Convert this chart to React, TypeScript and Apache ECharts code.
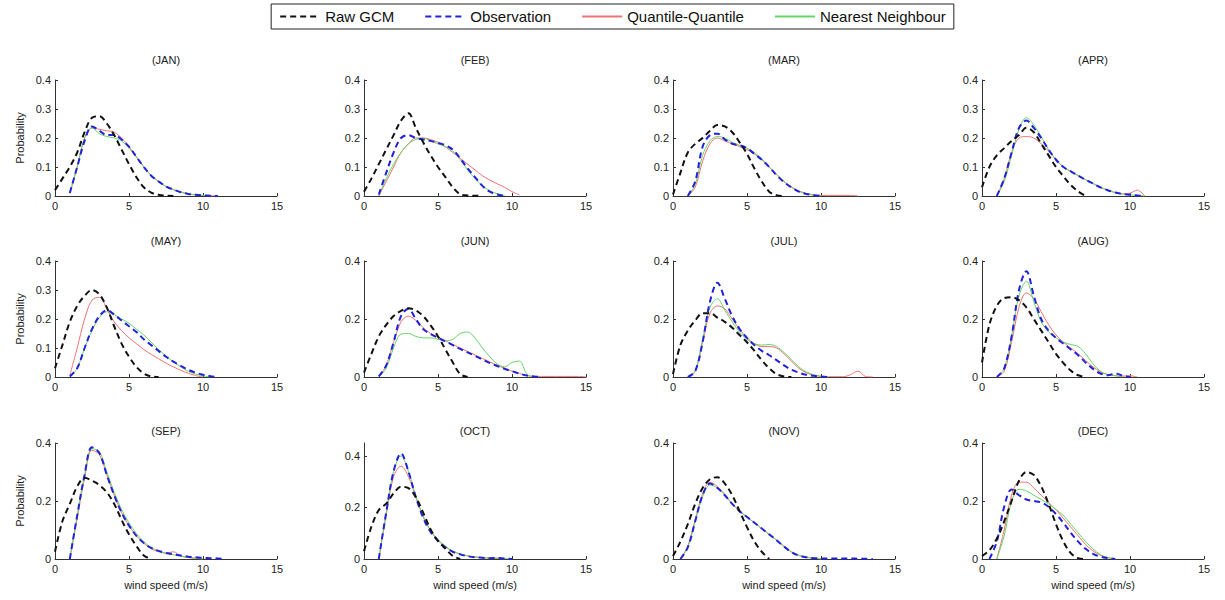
import React, { useEffect, useRef } from "react";
import * as echarts from "echarts";

const SPEED = [0, 0.5, 1, 1.5, 2, 2.5, 3, 3.5, 4, 4.5, 5, 5.5, 6, 6.5, 7, 7.5, 8, 8.5, 9, 9.5, 10, 10.5, 11, 11.5, 12, 12.5, 13, 13.5, 14, 14.5, 15];
const MONTHS = ["(JAN)", "(FEB)", "(MAR)", "(APR)", "(MAY)", "(JUN)", "(JUL)", "(AUG)", "(SEP)", "(OCT)", "(NOV)", "(DEC)"];
const SERIES_NAMES = ["Raw GCM", "Observation", "Quantile-Quantile", "Nearest Neighbour"];
const X_MAX = 15;
const X_STEP = 5;
const Y_MAX = [0.4, 0.4, 0.4, 0.4, 0.4, 0.4, 0.4, 0.4, 0.4, 0.45, 0.4, 0.4];
const Y_STEP = [0.1, 0.1, 0.1, 0.1, 0.1, 0.2, 0.2, 0.2, 0.2, 0.2, 0.2, 0.2];

const JAN_GCM = [0.02, 0.06, 0.1, 0.15, 0.22, 0.27, 0.275, 0.25, 0.21, 0.16, 0.11, 0.065, 0.03, 0.012, 0.004, 0.001, 0];
const JAN_OBS = [null, null, 0.01, 0.1, 0.19, 0.24, 0.225, 0.21, 0.21, 0.195, 0.17, 0.135, 0.1, 0.07, 0.05, 0.033, 0.022, 0.013, 0.007, 0.004, 0.002, 0.001, 0];
const JAN_QQ = [null, null, 0.01, 0.1, 0.2, 0.235, 0.23, 0.225, 0.22, 0.2, 0.17, 0.135, 0.1, 0.07, 0.05, 0.033, 0.022, 0.014, 0.008, 0.004, 0.002, 0.001, 0];
const JAN_NN = [null, null, 0.01, 0.1, 0.2, 0.235, 0.215, 0.205, 0.2, 0.19, 0.165, 0.135, 0.1, 0.072, 0.05, 0.033, 0.022, 0.013, 0.007, 0.004, 0.002, 0];

const FEB_GCM = [0.015, 0.06, 0.11, 0.16, 0.21, 0.26, 0.285, 0.235, 0.185, 0.14, 0.1, 0.065, 0.03, 0.006, 0.002, 0.001, 0];
const FEB_OBS = [null, null, 0.005, 0.08, 0.15, 0.2, 0.21, 0.2, 0.195, 0.19, 0.183, 0.175, 0.16, 0.13, 0.095, 0.065, 0.035, 0.015, 0.005, 0];
const FEB_QQ = [null, null, 0, 0.05, 0.1, 0.15, 0.18, 0.2, 0.2, 0.195, 0.185, 0.17, 0.15, 0.13, 0.11, 0.09, 0.07, 0.055, 0.042, 0.03, 0.015, 0.004];
const FEB_NN = [null, null, 0, 0.06, 0.11, 0.15, 0.18, 0.195, 0.2, 0.19, 0.18, 0.17, 0.155, 0.125, 0.09, 0.06, 0.035, 0.018, 0.008, 0.002];

const MAR_GCM = [0.005, 0.08, 0.15, 0.18, 0.2, 0.225, 0.245, 0.24, 0.22, 0.185, 0.145, 0.095, 0.05, 0.015, 0.003, 0];
const MAR_OBS = [null, null, 0, 0.05, 0.17, 0.21, 0.215, 0.195, 0.18, 0.175, 0.165, 0.145, 0.125, 0.1, 0.072, 0.048, 0.03, 0.015, 0.007, 0.003, 0];
const MAR_QQ = [null, null, 0, 0.03, 0.12, 0.18, 0.2, 0.19, 0.18, 0.17, 0.16, 0.145, 0.125, 0.1, 0.075, 0.05, 0.032, 0.018, 0.009, 0.004, 0.002, 0.002, 0.002, 0.002, 0.002, 0];
const MAR_NN = [null, null, 0, 0.04, 0.14, 0.19, 0.205, 0.2, 0.185, 0.175, 0.165, 0.15, 0.128, 0.1, 0.073, 0.05, 0.03, 0.016, 0.008, 0.003, 0];

const APR_GCM = [0.03, 0.1, 0.14, 0.165, 0.19, 0.21, 0.235, 0.22, 0.18, 0.14, 0.1, 0.068, 0.038, 0.016, 0];
const APR_OBS = [null, null, 0, 0.06, 0.15, 0.235, 0.26, 0.235, 0.2, 0.16, 0.125, 0.1, 0.085, 0.07, 0.056, 0.043, 0.03, 0.02, 0.012, 0.007, 0.004, 0.002, 0];
const APR_QQ = [null, null, 0, 0.06, 0.15, 0.2, 0.205, 0.2, 0.18, 0.155, 0.125, 0.1, 0.085, 0.07, 0.056, 0.043, 0.03, 0.02, 0.012, 0.007, 0.01, 0.02, 0];
const APR_NN = [null, null, 0, 0.05, 0.14, 0.23, 0.27, 0.245, 0.205, 0.16, 0.125, 0.1, 0.085, 0.07, 0.056, 0.043, 0.03, 0.02, 0.012, 0.007, 0.004, 0.002, 0];

const MAY_GCM = [0.03, 0.11, 0.19, 0.245, 0.28, 0.3, 0.285, 0.24, 0.175, 0.115, 0.07, 0.035, 0.012, 0.002, 0];
const MAY_OBS = [null, null, 0.002, 0.03, 0.1, 0.165, 0.21, 0.23, 0.215, 0.195, 0.175, 0.155, 0.13, 0.11, 0.09, 0.07, 0.053, 0.038, 0.025, 0.015, 0.008, 0.003, 0];
const MAY_QQ = [null, null, 0.005, 0.1, 0.2, 0.265, 0.275, 0.235, 0.19, 0.16, 0.135, 0.115, 0.095, 0.078, 0.063, 0.048, 0.035, 0.023, 0.013, 0.005, 0];
const MAY_NN = [null, null, 0, 0.03, 0.1, 0.16, 0.205, 0.225, 0.215, 0.2, 0.185, 0.165, 0.145, 0.12, 0.095, 0.072, 0.052, 0.035, 0.02, 0.01, 0.004, 0];

const JUN_GCM = [0.015, 0.08, 0.14, 0.18, 0.21, 0.228, 0.237, 0.23, 0.21, 0.178, 0.14, 0.095, 0.05, 0.01, 0];
const JUN_OBS = [null, null, 0.002, 0.04, 0.12, 0.21, 0.235, 0.2, 0.165, 0.148, 0.135, 0.123, 0.11, 0.097, 0.085, 0.073, 0.06, 0.048, 0.038, 0.028, 0.02, 0.012, 0.005, 0.002, 0];
const JUN_QQ = [null, null, 0, 0.04, 0.12, 0.19, 0.21, 0.195, 0.17, 0.15, 0.138, 0.125, 0.112, 0.1, 0.088, 0.076, 0.064, 0.052, 0.04, 0.03, 0.02, 0.012, 0.005, 0.002, 0.002, 0.002, 0.002, 0.002, 0.002, 0.002, 0];
const JUN_NN = [null, null, 0, 0.03, 0.1, 0.148, 0.15, 0.14, 0.135, 0.135, 0.13, 0.125, 0.13, 0.15, 0.155, 0.135, 0.1, 0.07, 0.045, 0.035, 0.05, 0.055, 0.01, 0];

const JUL_GCM = [0.01, 0.11, 0.16, 0.195, 0.22, 0.22, 0.205, 0.19, 0.17, 0.145, 0.12, 0.09, 0.058, 0.03, 0.01, 0.002, 0];
const JUL_OBS = [null, null, 0, 0.02, 0.12, 0.26, 0.325, 0.27, 0.21, 0.165, 0.135, 0.11, 0.09, 0.075, 0.058, 0.04, 0.025, 0.015, 0.008, 0.004, 0.002, 0];
const JUL_QQ = [null, null, 0, 0.02, 0.12, 0.22, 0.245, 0.235, 0.2, 0.165, 0.135, 0.115, 0.105, 0.105, 0.1, 0.08, 0.055, 0.03, 0.015, 0.006, 0.002, 0.001, 0.001, 0.001, 0.008, 0.02, 0.002, 0];
const JUL_NN = [null, null, 0, 0.02, 0.13, 0.24, 0.27, 0.23, 0.19, 0.155, 0.13, 0.115, 0.11, 0.112, 0.105, 0.085, 0.06, 0.035, 0.018, 0.008, 0.003, 0];

const AUG_GCM = [0.05, 0.18, 0.245, 0.272, 0.275, 0.265, 0.24, 0.2, 0.16, 0.12, 0.08, 0.048, 0.022, 0.006, 0];
const AUG_OBS = [null, null, 0, 0.03, 0.14, 0.3, 0.365, 0.28, 0.2, 0.16, 0.135, 0.115, 0.095, 0.075, 0.05, 0.028, 0.012, 0.006, 0.012, 0.005, 0];
const AUG_QQ = [null, null, 0, 0.02, 0.12, 0.24, 0.29, 0.27, 0.225, 0.18, 0.145, 0.12, 0.1, 0.08, 0.057, 0.035, 0.018, 0.008, 0.005, 0.003, 0.004, 0];
const AUG_NN = [null, null, 0, 0.03, 0.14, 0.28, 0.33, 0.26, 0.19, 0.155, 0.135, 0.12, 0.112, 0.105, 0.08, 0.045, 0.02, 0.008, 0.004, 0];

const SEP_GCM = [0.025, 0.13, 0.19, 0.25, 0.28, 0.27, 0.255, 0.23, 0.19, 0.135, 0.085, 0.045, 0.012, 0];
const SEP_OBS = [null, null, 0, 0.15, 0.29, 0.385, 0.365, 0.29, 0.22, 0.16, 0.115, 0.08, 0.055, 0.038, 0.028, 0.021, 0.016, 0.012, 0.008, 0.006, 0.004, 0.003, 0.002, 0];
const SEP_QQ = [null, null, 0, 0.14, 0.28, 0.375, 0.36, 0.29, 0.22, 0.16, 0.115, 0.08, 0.055, 0.035, 0.025, 0.02, 0.025, 0.01, 0.005, 0.002, 0];
const SEP_NN = [null, null, 0, 0.15, 0.29, 0.38, 0.37, 0.3, 0.23, 0.17, 0.125, 0.088, 0.06, 0.04, 0.028, 0.02, 0.015, 0.01, 0.006, 0.003, 0];

const OCT_GCM = [0.03, 0.125, 0.19, 0.215, 0.255, 0.28, 0.275, 0.24, 0.18, 0.115, 0.07, 0.04, 0.012, 0];
const OCT_OBS = [null, null, 0, 0.18, 0.34, 0.41, 0.34, 0.24, 0.16, 0.105, 0.07, 0.045, 0.028, 0.018, 0.011, 0.007, 0.005, 0.003, 0.004, 0.002, 0];
const OCT_QQ = [null, null, 0, 0.17, 0.32, 0.36, 0.32, 0.24, 0.165, 0.11, 0.072, 0.047, 0.03, 0.019, 0.012, 0.008, 0.005, 0.003, 0.002, 0];
const OCT_NN = [null, null, 0, 0.18, 0.34, 0.4, 0.34, 0.245, 0.165, 0.11, 0.075, 0.05, 0.03, 0.02, 0.012, 0.008, 0.005, 0.004, 0.004, 0.002, 0];

const NOV_GCM = [0.01, 0.06, 0.12, 0.19, 0.245, 0.275, 0.282, 0.26, 0.22, 0.165, 0.11, 0.06, 0.025, 0];
const NOV_OBS = [null, 0, 0.04, 0.13, 0.22, 0.26, 0.245, 0.22, 0.19, 0.165, 0.145, 0.125, 0.105, 0.085, 0.065, 0.043, 0.024, 0.012, 0.006, 0.003, 0.002, 0.002, 0.002, 0.002, 0.002, 0.001, 0.001, 0];
const NOV_QQ = [null, 0, 0.045, 0.135, 0.225, 0.265, 0.25, 0.222, 0.19, 0.165, 0.145, 0.125, 0.105, 0.085, 0.065, 0.043, 0.024, 0.012, 0.006, 0.003, 0];
const NOV_NN = [null, 0, 0.04, 0.13, 0.215, 0.255, 0.245, 0.22, 0.19, 0.165, 0.145, 0.125, 0.105, 0.085, 0.065, 0.044, 0.025, 0.013, 0.006, 0.003, 0];

const DEC_GCM = [0.01, 0.03, 0.07, 0.13, 0.2, 0.27, 0.3, 0.29, 0.25, 0.19, 0.12, 0.06, 0.02, 0.003, 0];
const DEC_OBS = [null, 0, 0.06, 0.18, 0.24, 0.22, 0.205, 0.2, 0.195, 0.18, 0.155, 0.125, 0.09, 0.06, 0.035, 0.018, 0.008, 0.003, 0];
const DEC_QQ = [null, null, 0, 0.1, 0.22, 0.265, 0.265, 0.245, 0.22, 0.195, 0.17, 0.14, 0.11, 0.08, 0.05, 0.028, 0.013, 0.005, 0];
const DEC_NN = [null, null, 0, 0.08, 0.2, 0.24, 0.235, 0.22, 0.205, 0.19, 0.17, 0.15, 0.12, 0.09, 0.06, 0.035, 0.015, 0.005, 0];

const TABLE = [
  [JAN_GCM, JAN_OBS, JAN_QQ, JAN_NN],
  [FEB_GCM, FEB_OBS, FEB_QQ, FEB_NN],
  [MAR_GCM, MAR_OBS, MAR_QQ, MAR_NN],
  [APR_GCM, APR_OBS, APR_QQ, APR_NN],
  [MAY_GCM, MAY_OBS, MAY_QQ, MAY_NN],
  [JUN_GCM, JUN_OBS, JUN_QQ, JUN_NN],
  [JUL_GCM, JUL_OBS, JUL_QQ, JUL_NN],
  [AUG_GCM, AUG_OBS, AUG_QQ, AUG_NN],
  [SEP_GCM, SEP_OBS, SEP_QQ, SEP_NN],
  [OCT_GCM, OCT_OBS, OCT_QQ, OCT_NN],
  [NOV_GCM, NOV_OBS, NOV_QQ, NOV_NN],
  [DEC_GCM, DEC_OBS, DEC_QQ, DEC_NN],
];

const FONT = "'Liberation Sans', Arial, Helvetica, sans-serif";
const LEFTS = [55, 364, 673, 982];
const TOPS = [80, 261, 443];
const TITLE_Y = [60, 241, 431];
const PW = 222;
const PH = 116;

const STYLES: Record<string, { color: string; width: number; type: any }> = {
  "Raw GCM": { color: "#111111", width: 2, type: [6, 4] },
  Observation: { color: "#2222dd", width: 2, type: [6, 4] },
  "Quantile-Quantile": { color: "#f07272", width: 1, type: "solid" },
  "Nearest Neighbour": { color: "#66d466", width: 1, type: "solid" },
};
const DRAW_ORDER = [2, 3, 1, 0];

function pairs(arr: (number | null)[]) {
  const out: number[][] = [];
  arr.forEach((v, i) => {
    if (v !== null && v !== undefined) out.push([SPEED[i], v]);
  });
  return out;
}

export default function App() {
  const ref = useRef<HTMLDivElement>(null);
  useEffect(() => {
    const chart = echarts.init(ref.current!, null, { renderer: "svg" });
    const grids: any[] = [];
    const xAxes: any[] = [];
    const yAxes: any[] = [];
    const series: any[] = [];
    const graphics: any[] = [];
    MONTHS.forEach((m, i) => {
      const r = Math.floor(i / 4);
      const c = i % 4;
      grids.push({ left: LEFTS[c], top: TOPS[r], width: PW, height: PH });
      const axisLine = { show: true, lineStyle: { color: "#333", width: 1 } };
      const axisTick = { show: true, inside: true, length: 3, lineStyle: { color: "#333" } };
      xAxes.push({
        type: "value",
        gridIndex: i,
        min: 0,
        max: X_MAX,
        interval: X_STEP,
        axisLine,
        axisTick,
        splitLine: { show: false },
        axisLabel: { fontSize: 11, color: "#222", margin: 4, fontFamily: FONT },
        name: r === 2 ? "wind speed (m/s)" : "",
        nameLocation: "middle",
        nameGap: 20,
        nameTextStyle: { fontSize: 11, color: "#222", fontFamily: FONT },
      });
      yAxes.push({
        type: "value",
        gridIndex: i,
        min: 0,
        max: Y_MAX[i],
        interval: Y_STEP[i],
        axisLine,
        axisTick,
        splitLine: { show: false },
        axisLabel: { fontSize: 11, color: "#222", margin: 4, fontFamily: FONT, showMaxLabel: Y_MAX[i] <= 0.4 },
        name: c === 0 ? "Probability" : "",
        nameLocation: "middle",
        nameGap: 30,
        nameTextStyle: { fontSize: 11, color: "#222", fontFamily: FONT },
      });
      graphics.push({
        type: "text",
        x: LEFTS[c] + PW / 2,
        y: TITLE_Y[r],
        style: {
          text: m,
          align: "center",
          verticalAlign: "middle",
          textAlign: "center",
          textVerticalAlign: "middle",
          fontSize: 11,
          fontFamily: FONT,
          fill: "#222",
        },
      });
      DRAW_ORDER.forEach((k) => {
        const name = SERIES_NAMES[k];
        const st = STYLES[name];
        series.push({
          type: "line",
          name,
          xAxisIndex: i,
          yAxisIndex: i,
          data: pairs(TABLE[i][k]),
          symbol: "none",
          smooth: 0.35,
          color: st.color,
          lineStyle: { color: st.color, width: st.width, type: st.type },
          itemStyle: { color: st.color },
        });
      });
    });
    chart.setOption({
      animation: false,
      backgroundColor: "#ffffff",
      legend: {
        data: SERIES_NAMES,
        top: 4,
        left: "center",
        orient: "horizontal",
        borderColor: "#222",
        borderWidth: 1,
        borderRadius: 0,
        padding: [5, 8],
        itemWidth: 40,
        itemHeight: 12,
        itemGap: 30,
        itemStyle: { opacity: 0, borderWidth: 0 },
        textStyle: { fontSize: 15, color: "#111", fontFamily: FONT },
      },
      grid: grids,
      xAxis: xAxes,
      yAxis: yAxes,
      series,
      graphic: graphics,
    });
    return () => chart.dispose();
  }, []);
  return (
    <div
      ref={ref}
      style={{ position: "absolute", left: 0, top: 0, width: 1225, height: 600, background: "#fff" }}
    />
  );
}
